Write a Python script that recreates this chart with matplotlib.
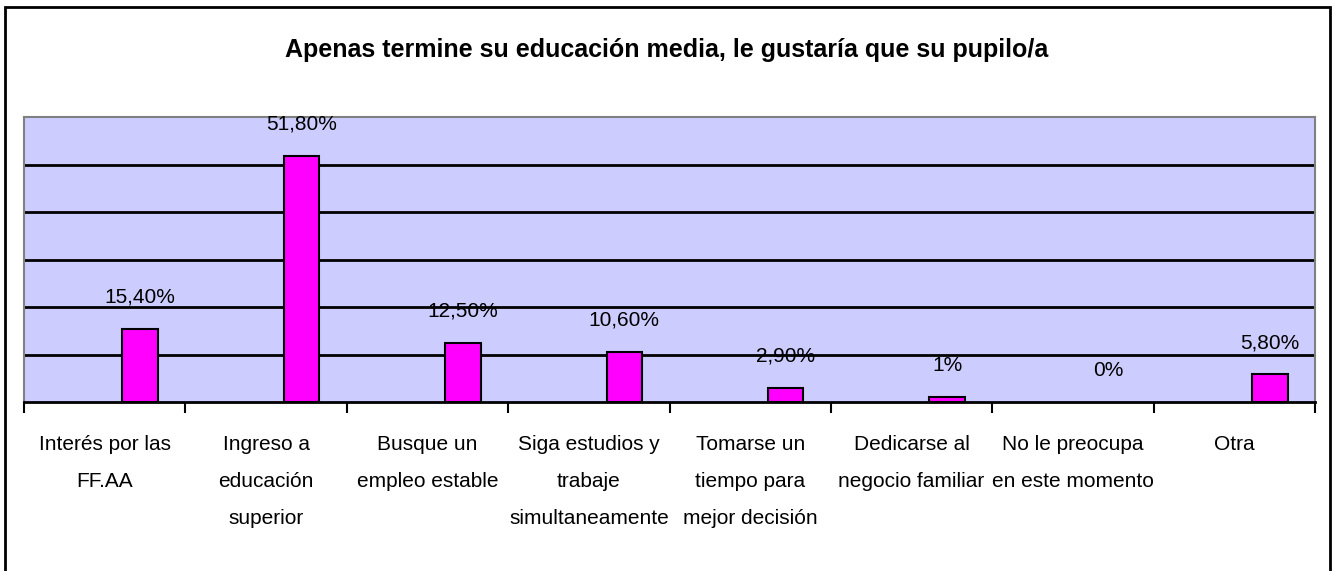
import matplotlib.pyplot as plt
from matplotlib.patches import Rectangle
import numpy as np

plt.rcParams['font.family'] = ['Liberation Sans', 'DejaVu Sans']

titulo = 'Apenas termine su educación media, le gustaría que su pupilo/a'
categorias = ['Interés por las\nFF.AA', 'Ingreso a\neducación\nsuperior', 'Busque un\nempleo estable',
              'Siga estudios y\ntrabaje\nsimultaneamente', 'Tomarse un\ntiempo para\nmejor decisión',
              'Dedicarse al\nnegocio familiar', 'No le preocupa\nen este momento', 'Otra']
valores = [15.4, 51.8, 12.5, 10.6, 2.9, 1.0, 0.0, 5.8]
etiquetas = ['15,40%', '51,80%', '12,50%', '10,60%', '2,90%', '1%', '0%', '5,80%']

fig = plt.figure(figsize=(13.33, 5.71), dpi=100)
fig.patches.append(Rectangle((5 / 1333, -0.1), 1325 / 1333, 1.1 - 7 / 571, transform=fig.transFigure,
                             fill=False, edgecolor='black', linewidth=2))

ax = fig.add_axes([24 / 1333, 1 - 402 / 571, 1291 / 1333, 285 / 571])
ax.set_facecolor('#CCCCFF')

x = np.arange(len(valores))
bordes = [1.5 if v > 0 else 0 for v in valores]
ax.bar(x + 0.22, valores, width=0.22, color='#FF00FF', edgecolor='black', linewidth=bordes, zorder=3)
for xi, v, t in zip(x, valores, etiquetas):
    ax.annotate(t, (xi + 0.22, v), xytext=(0, 23), textcoords='offset points',
                ha='center', va='center', fontsize=15, zorder=4)

ax.set_xlim(-0.5, len(valores) - 0.5)
ax.set_ylim(0, 60)
for g in range(10, 60, 10):
    ax.axhline(g, color='black', linewidth=2, zorder=2)

ax.set_yticks([])
ax.set_xticks(np.arange(len(valores) + 1) - 0.5, minor=False)
ax.set_xticklabels([])
ax.tick_params(axis='x', which='major', length=8, width=1.5, direction='out', color='black')
ax.set_xticks(x, minor=True)
ax.set_xticklabels(categorias, minor=True, fontsize=15, linespacing=2.2, va='top')
ax.tick_params(axis='x', which='minor', length=0, pad=24)

for s in ['top', 'left', 'right']:
    ax.spines[s].set_color('#808080')
    ax.spines[s].set_linewidth(1.5)
ax.spines['bottom'].set_color('black')
ax.spines['bottom'].set_linewidth(2)

fig.text(0.5, 1 - 50 / 571, titulo, ha='center', va='center', fontsize=18, fontweight='bold')

fig.savefig('out.png', dpi=100)
